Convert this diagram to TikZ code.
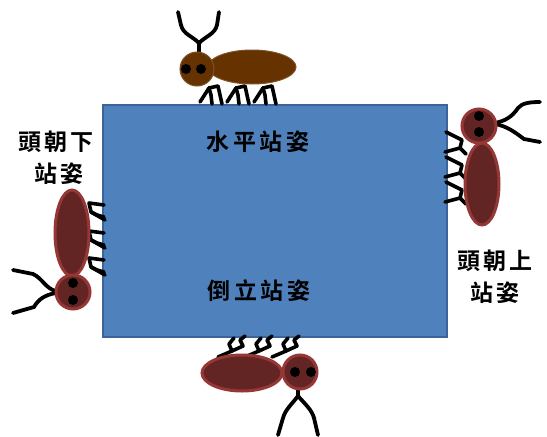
\documentclass[tikz,border=0pt]{standalone}
\usepackage{fontspec}
\newfontfamily\cjk[LetterSpace=15]{Noto Sans CJK TC Bold}
\begin{document}
\begin{tikzpicture}[x=1pt,y=-1pt,
  board/.style={fill=boardblue,draw=boardedge,line width=2pt},
  leg/.style={draw=black,line width=3.6pt,line join=round,line cap=round},
  antenna/.style={draw=black,line width=3.8pt,line cap=round},
  brownbody/.style={fill=roachbrown,draw=roachbrown!85!white,line width=1pt},
  redbody/.style={fill=roachred,draw=roachrim,line width=3pt},
  eye/.style={fill=black,draw=none},
  caption/.style={font=\fontsize{23}{27}\selectfont\cjk,align=center,inner sep=0pt}]
\definecolor{boardblue}{HTML}{4F81BD}
\definecolor{boardedge}{HTML}{3A649A}
\definecolor{roachbrown}{HTML}{663300}
\definecolor{roachred}{HTML}{632523}
\definecolor{roachrim}{HTML}{953735}
\useasboundingbox (0,0) rectangle (547,437);
\fill[white] (0,0) rectangle (547,437);

% the board
\draw[board] (103,105) rectangle (447,337);

% ---------- bug on the top edge (horizontal) ----------
\foreach \x in {200,227,254}{
  \draw[leg] (\x,102) -- (\x+9,88) -- (\x+18,86) -- (\x+22,104);
  \draw[leg] (\x+9,88) -- (\x+11,95) -- (\x+12,104);
}
\draw[antenna] (199,52) -- (199,43) .. controls (192,36) and (183,34) .. (181,25) -- (178,12);
\draw[antenna] (199,43) .. controls (206,36) and (215,34) .. (217,25) -- (219,12);
\draw[brownbody] (252,67) ellipse [x radius=44,y radius=17];
\draw[brownbody] (197,69) circle [radius=17];
\fill[eye] (186,69) circle [radius=5];
\fill[eye] (201,69) circle [radius=5];

% ---------- bug on the left edge (head down) ----------
\foreach \y in {203,231,258}{
  \draw[leg] (104,\y+2) -- (89,\y) -- (91,\y+9) -- (105,\y+17);
  \draw[leg] (91,\y+9) -- (97,\y+12) -- (104,\y+14);
}
\draw[antenna] (56,291) .. controls (46,289) and (42,278) .. (33,274) -- (13,270);
\draw[antenna] (56,293) .. controls (44,295) and (38,300) .. (34,307) -- (13,313);
\draw[redbody] (72,233) ellipse [x radius=17,y radius=43];
\draw[redbody] (73,292) circle [radius=17];
\fill[eye] (73,283) circle [radius=5];
\fill[eye] (73,300) circle [radius=5];

% ---------- bug on the right edge (head up) ----------
\foreach \y in {132,157,182}{
  \draw[leg] (446,\y) -- (462,\y+8) -- (460,\y+16) -- (445,\y+20);
  \draw[leg] (460,\y+16) -- (466,\y+22);
}
\draw[antenna] (495,123) .. controls (505,121) and (512,117) .. (518,108) .. controls (522,103) and (530,102) .. (540,102);
\draw[antenna] (495,124) .. controls (507,126) and (516,133) .. (524,139) -- (540,142);
\draw[redbody] (482,184) ellipse [x radius=17,y radius=41];
\draw[redbody] (479,126) circle [radius=17];
\fill[eye] (479,116) circle [radius=5];
\fill[eye] (479,132) circle [radius=5];

% ---------- bug on the bottom edge (upside down) ----------
\foreach \x in {218,245,272}{
  \draw[leg] (\x,357) -- (\x+14,351) -- (\x+11,344) -- (\x+16,338);
  \draw[leg] (\x+14,351) -- (\x+25,346) -- (\x+22,340) -- (\x+27,336);
}
\draw[antenna] (298,388) -- (298,396) .. controls (292,404) and (285,410) .. (283,418) -- (278,435);
\draw[antenna] (298,396) .. controls (305,404) and (312,410) .. (314,418) -- (318,435);
\draw[redbody] (242,373) ellipse [x radius=40,y radius=18];
\draw[redbody] (300,372) circle [radius=17];
\fill[eye] (295,372) circle [radius=5];
\fill[eye] (311,372) circle [radius=5];

% ---------- captions ----------
\node[caption] (flat) at (258,142) {水平站姿};
\node[caption] (invert) at (259,291) {倒立站姿};
\node[caption] (down1) at (56,142) {頭朝下};
\node[caption] (down2) at (59,174) {站姿};
\node[caption] (up1) at (495,261) {頭朝上};
\node[caption] (up2) at (495,293) {站姿};
\end{tikzpicture}
\end{document}
